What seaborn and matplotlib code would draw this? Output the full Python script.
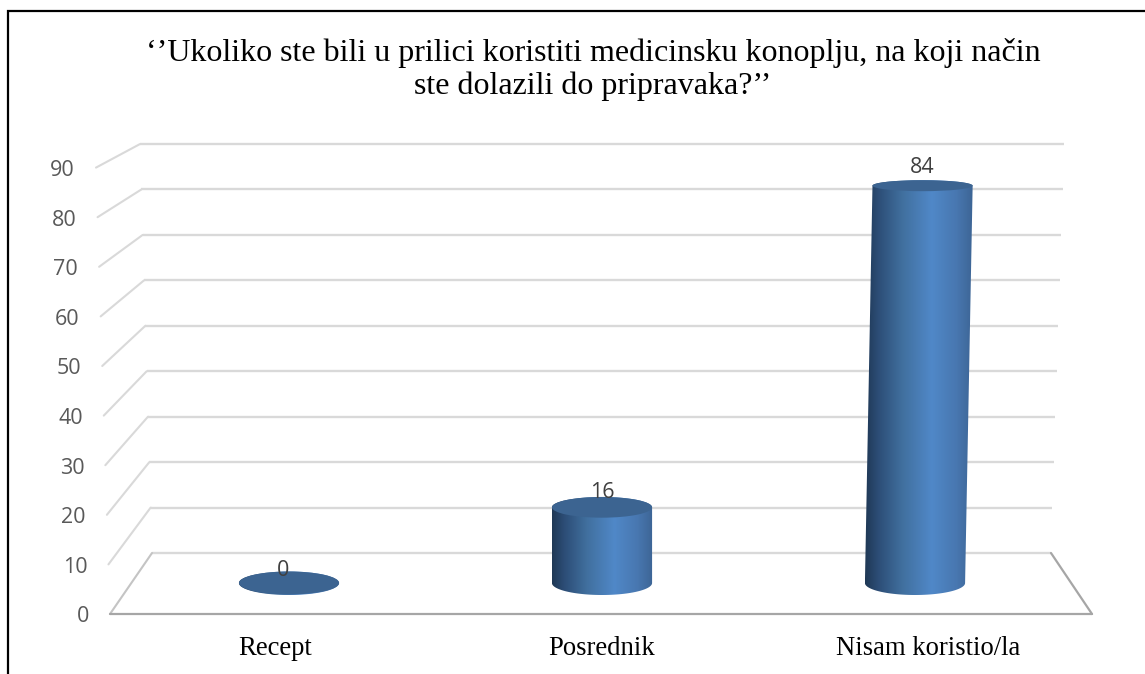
import numpy as np
import matplotlib
matplotlib.use("Agg")
import matplotlib.pyplot as plt
import seaborn as sns
from matplotlib.colors import LinearSegmentedColormap
from matplotlib.patches import Ellipse, PathPatch
from matplotlib.path import Path

categories = ["Recept", "Posrednik", "Nisam koristio/la"]
values = [0, 16, 84]
y_ticks = [0, 10, 20, 30, 40, 50, 60, 70, 80, 90]
title = "\u2018\u2019Ukoliko ste bili u prilici koristiti medicinsku konoplju, na koji način\nste dolazili do pripravaka?\u2019\u2019"

W, H = 1145, 674
PX_PER_UNIT = 4.73  # bar height scale, px per value
BASE_Y = 583  # pixel row of the cylinder base
GRID = "#d9d9d9"
FLOOR = "#a6a6a6"
TOP_COLOR = "#3c6491"

sns.set_theme(style="white")
plt.rcParams["font.family"] = ["Open Sans", "DejaVu Sans"]

fig = plt.figure(figsize=(W / 100, H / 100), dpi=100, facecolor="white")

# ==== Background axes in pixel coordinates: frame, walls, y labels ====
bg = fig.add_axes([0, 0, 1, 1])
bg.set_xlim(0, W)
bg.set_ylim(H, 0)
bg.axis("off")


def front(v):
    return 110 - 14 * v / 90, 614 - 4.96 * v


def back_left(v):
    return 152 - 12 * v / 90, 553 - 4.544 * v


def back_right(v):
    return 1051 + 13 * v / 90, 553 - 4.544 * v


for v in y_ticks:
    fx, fy = front(v)
    lx, ly = back_left(v)
    rx, ry = back_right(v)
    bg.plot([lx, rx], [ly, ry], color=GRID, lw=1.7, solid_capstyle="butt")
    if v > 0:
        bg.plot([fx, lx], [fy, ly], color=GRID, lw=1.5)
    bg.text(fx - 21, fy + 3, str(v), ha="right", va="center", fontsize=15.5, color="#595959")

# floor edges
bg.plot([110, 152], [614, 553], color="#c4c4c4", lw=1.5)
bg.plot([1051, 1092], [553, 614], color=FLOOR, lw=1.6)
bg.plot([110, 1092], [614, 614], color=FLOOR, lw=1.6)

# outer frame, open at the bottom and on the right
bg.plot([8, 8, W], [H, 11, 11], color="black", lw=1.6, solid_joinstyle="miter")

bg.text(593, 69.5, title, ha="center", va="center", fontsize=23, color="black",
        family=["Liberation Serif", "DejaVu Serif"], linespacing=1.12)

# ==== Bars on their own axes ====
ax_left, ax_right = 132.5, 1071.5
ax_top, ax_bottom = 100, 614
ax = fig.add_axes([ax_left / W, 1 - ax_bottom / H, (ax_right - ax_left) / W, (ax_bottom - ax_top) / H])
ax.patch.set_alpha(0)
sns.barplot(x=categories, y=values, width=0.32, color="#4f81bd", ax=ax)

xlim = (-0.5, 2.5)
ylim = (-(ax_bottom - BASE_Y) / PX_PER_UNIT, (BASE_Y - ax_top) / PX_PER_UNIT)

cmap = LinearSegmentedColormap.from_list(
    "cyl",
    [(0, "#1f3855"), (0.12, "#2c4d76"), (0.35, "#41709f"), (0.62, "#5088c8"), (0.85, "#4877b0"), (1, "#3d6595")],
)
gradient = np.linspace(0, 1, 256).reshape(1, -1)

for i, (bar, v) in enumerate(zip(ax.patches, values)):
    bar.set_visible(False)
    cx = bar.get_x() + bar.get_width() / 2
    half_w = bar.get_width() / 2
    # the chart leans outwards with height
    lean = (cx - 1) * v * 0.09 / 313
    hh_top = (11.5 - 6 * v / 84) / PX_PER_UNIT
    hh_base = 12 / PX_PER_UNIT

    t = np.linspace(0, np.pi, 60)
    top_x = cx + lean - half_w * np.cos(t)
    top_y = v + hh_top * np.sin(t)
    low_x = cx + half_w * np.cos(t)
    low_y = -hh_base * np.sin(t)
    verts = np.column_stack([np.r_[top_x, low_x], np.r_[top_y, low_y]])
    clip = PathPatch(Path(np.vstack([verts, verts[0]]), closed=True), transform=ax.transData,
                     fc="none", ec="none")
    ax.add_patch(clip)
    img = ax.imshow(gradient, cmap=cmap, aspect="auto", zorder=2, interpolation="bilinear",
                    extent=(cx - half_w + min(lean, 0), cx + half_w + max(lean, 0), -hh_base, v + hh_top))
    img.set_clip_path(clip)
    ax.add_patch(Ellipse((cx + lean, v), 2 * half_w, 2 * hh_top, fc=TOP_COLOR, ec="none", zorder=3))

    dx = -6 if v == 0 else 0
    dy = 13 if v == 0 else 13.5 + v * 0.06
    ax.annotate(str(v), (cx + lean, v), xytext=(dx, dy), textcoords="offset pixels",
                ha="center", va="center", fontsize=15.5, color="#404040", zorder=4)

ax.set_xlim(xlim)
ax.set_ylim(ylim)
ax.set_yticks([])
ax.set_xticks([1 + (i - 1) * 326.5 / 313 for i in range(len(categories))])
ax.set_xticklabels(categories, fontsize=19.2, color="black", family=["Liberation Serif", "DejaVu Serif"])
ax.tick_params(axis="x", length=0, pad=15.5)
sns.despine(ax=ax, left=True, bottom=True)

fig.savefig("out.png", dpi=100)
plt.close(fig)
